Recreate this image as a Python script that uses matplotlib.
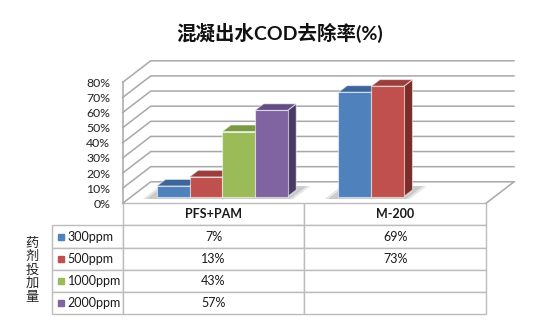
import matplotlib.pyplot as plt
from matplotlib.patches import Polygon
from matplotlib.table import Table

plt.rcParams['font.family'] = ['Lato', 'Noto Sans CJK SC', 'DejaVu Sans']

categories = ['PFS+PAM', 'M-200']
doses = ['300ppm', '500ppm', '1000ppm', '2000ppm']
removal_300 = [7, 69]
removal_500 = [13, 73]
removal_1000 = [43, None]
removal_2000 = [57, None]
yticks = [0, 10, 20, 30, 40, 50, 60, 70, 80]

series = [removal_300, removal_500, removal_1000, removal_2000]
front_c = ['#4F81BD', '#C0504D', '#9BBB59', '#8064A2']
top_c = ['#3C6699', '#9B3D3A', '#7A9A43', '#634C82']
side_c = ['#2F5079', '#7B2D2B', '#5F7A32', '#4A3A63']
grid_c = '#a8a8a8'

# pixel layout of the front plane
W, H = 540, 328
left, right = 122.7, 486.0
base, top80 = 203.3, 82.3
fig = plt.figure(figsize=(W / 100, H / 100), dpi=100)
ax = fig.add_axes([left / W, (H - base) / H, (right - left) / W, (base - top80) / H])
ax.set_xlim(0, len(categories))
ax.set_ylim(0, 80)

# depth of the 3d box in data units
DX = 28 / ((right - left) / len(categories))
DY = 21.5 / ((base - top80) / 80)

# walls
for v in yticks:
    ax.plot([0, DX, len(categories) + DX], [v, v + DY, v + DY], color=grid_c,
            lw=1.1, clip_on=False, zorder=1)
ax.plot([len(categories), len(categories) + DX], [0, DY], color=grid_c, lw=1.1,
        clip_on=False, zorder=1)
ax.plot([0, 0], [0, 80], color=grid_c, lw=1.1, clip_on=False, zorder=1)

# bars
slot, start = 0.18, 0.14
d0, d1 = 0.31, 0.62
ox, oy = (d1 - d0) * DX, (d1 - d0) * DY


def face(pts, fc, z):
    ax.add_patch(Polygon(pts, closed=True, fc=fc, ec=(1, 1, 1, 0.55), lw=0.8,
                         clip_on=False, zorder=z))


z = 3
for c in range(len(categories)):
    used = [i for i in range(len(series)) if series[i][c] is not None]
    # soft shadow on the floor under the group
    gx0 = c + start - 0.04
    gx1 = c + start + slot * (max(used) + 1) + 0.03
    for k, a in enumerate([0.25, 0.35]):
        e = 0.02 * (1 - k)
        ax.add_patch(Polygon([(gx0 - e + 0.2 * DX, 0.2 * DY), (gx1 + e + 0.2 * DX, 0.2 * DY),
                              (gx1 + e + 0.8 * DX, 0.8 * DY), (gx0 - e + 0.8 * DX, 0.8 * DY)],
                             closed=True, fc='#9a9a9a', ec='none', alpha=a,
                             clip_on=False, zorder=2))
    for i in used:
        v = series[i][c]
        x0 = c + start + i * slot + d0 * DX
        x1 = x0 + slot
        yb, yt = d0 * DY, v + d0 * DY
        face([(x1, yb), (x1 + ox, yb + oy), (x1 + ox, yt + oy), (x1, yt)], side_c[i], z)
        face([(x0, yt), (x1, yt), (x1 + ox, yt + oy), (x0 + ox, yt + oy)], top_c[i], z)
        face([(x0, yb), (x1, yb), (x1, yt), (x0, yt)], front_c[i], z + 1)
        z += 2

for s in ax.spines.values():
    s.set_visible(False)
ax.set_xticks([])
ax.set_yticks(yticks)
ax.set_yticklabels([f'{v}%' for v in yticks], fontsize=8.8, color='#222222')
ax.tick_params(axis='y', length=0, pad=9)

# data table under the chart; bbox covers the value columns, labels sit left of it
tab_left, row_h = 52.3, 22.14
plot_h = base - top80
lab_w = (left - tab_left) / (right - left)
col_w = 1 / len(categories)
n_rows = len(doses) + 1
cell_h = row_h / plot_h
tb = Table(ax, bbox=[0, -n_rows * cell_h, 1, n_rows * cell_h])
for j, cat in enumerate(categories):
    cell = tb.add_cell(0, j, width=col_w, height=cell_h, text=cat, loc='center')
    cell.get_text().set_fontweight('bold')
for i, name in enumerate(doses):
    cell = tb.add_cell(i + 1, -1, width=lab_w, height=cell_h, text=name, loc='left')
    cell.PAD = 0.22
    for j in range(len(categories)):
        v = series[i][j]
        tb.add_cell(i + 1, j, width=col_w, height=cell_h,
                    text='' if v is None else f'{v}%', loc='center')
tb.auto_set_font_size(False)
tb.set_fontsize(9)
for cell in tb.get_celld().values():
    cell.set_edgecolor('#bcbcbc')
    cell.set_linewidth(1.0)
    cell.get_text().set_color('#1a1a1a')
ax.add_table(tb)
tb.set_clip_on(False)

# legend keys inside the row-label cells
for i in range(len(doses)):
    yc = -cell_h * (i + 1.5)
    ax.plot([(60.8 - left) / (right - left)], [yc], marker='s', ms=3.8, color=front_c[i],
            transform=ax.transAxes, clip_on=False, zorder=10)

# vertical row title, one character per line
for k, ch in enumerate('药剂投加量'):
    fig.text(32 / W, 1 - (243 + 13.5 * k) / H, ch, ha='center', va='center',
             fontsize=9.5, family='Noto Sans CJK SC', color='#222222')
fig.text(280 / W, 1 - 33 / H, '混凝出水COD去除率(%)', ha='center', va='center',
         fontsize=14, fontweight='bold', color='#111111')

fig.savefig('out.png', dpi=100)
